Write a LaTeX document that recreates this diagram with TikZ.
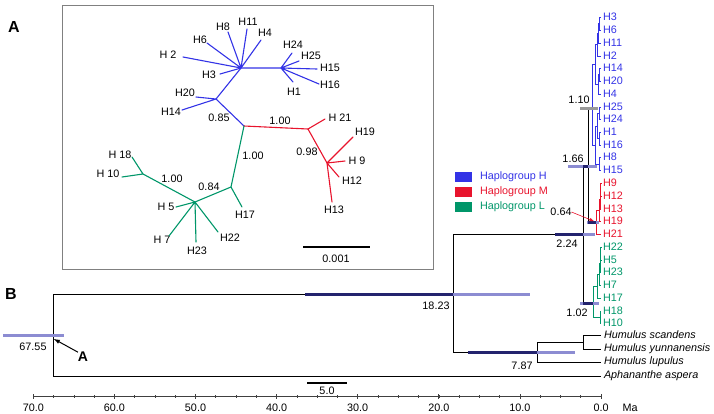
\documentclass[tikz,border=0pt]{standalone}
\usepackage{fontspec}
\setmainfont{Liberation Sans}
\usetikzlibrary{positioning}
\definecolor{hapH}{RGB}{51,51,230}
\definecolor{hapM}{RGB}{232,20,45}
\definecolor{hapL}{RGB}{0,150,105}
\definecolor{hpdlight}{RGB}{140,140,210}
\definecolor{hpddark}{RGB}{35,35,110}
\definecolor{framegray}{gray}{0.5}

\begin{document}
\begin{tikzpicture}[
	x=1pt, y=-1pt,
	every node/.style={inner sep=0pt, outer sep=0pt,
		font=\fontsize{10.8}{12}\selectfont},
	uline/.style={line width=1.1pt, line cap=round},
	branch/.style={line width=0.9pt},
	hpdbar/.style={line width=3pt, draw=hpdlight},
	hpdpart/.style={line width=3pt, draw=hpddark},
	panel/.style={font=\fontsize{16}{18}\selectfont\bfseries},
	tiplab/.style={anchor=west},
	species/.style={anchor=west, font=\fontsize{10.8}{12}\selectfont\itshape},
	keybox/.style={minimum width=17pt, minimum height=10pt},
]
\useasboundingbox (0,0) rectangle (714,413);
% Input 1: name, 2: end of the spoke, 3: where its label sits.
\def\utip(#1)#2#3#4{
	\coordinate (#1) at (#2);
	\node (#1lab) at (#3) {#4};
}
% Input 2: y of the tip (all tips at 0.0 Ma), 3: label colour.
\def\leaf(#1)#2#3#4{
	\coordinate (#1) at (601,#2);
	\node[tiplab, text=#3] (#1lab) at (603,#2) {#4};
}
\def\outleaf(#1)#2#3{
	\coordinate (#1) at (601,#2);
	\node[species] (#1lab) at (604,#2) {#3};
}
% \hpd{node}{reach left}{reach right}{part lying on the parent branch}.
\def\hpd#1#2#3#4{
	\draw[hpdbar] ([xshift=-#2pt]#1) -- ([xshift=#3pt]#1);
	\draw[hpdpart] ([xshift=-#4pt]#1) -- (#1);
}
	% ---- A: unrooted haplotype tree ----
	\node[panel] (labA) at (14,27) {A};
	\draw[framegray, line width=0.9pt] (62,5) rectangle (433,269);

	\coordinate (c0) at (244,126);
	\coordinate (b1) at (216,99);
	\coordinate (b2) at (241,68);
	\coordinate (b3) at (281,68);
	\coordinate (r1) at (308,129);
	\coordinate (r2) at (327,163);
	\coordinate (g1) at (231,187);
	\coordinate (g2) at (195,202);
	\coordinate (g3) at (143,174);

	\utip(u20){196,97}{185,93}{H20}
	\utip(u14){182,110}{171,112}{H14}
	\utip(u3){220,74}{209,75}{H3}
	\utip(u2){183,57}{168,55}{H 2}
	\utip(u6){207,43}{200,40}{H6}
	\utip(u8){228,32}{223,27}{H8}
	\utip(u11){247,29}{248,22}{H11}
	\utip(u4){261,40}{265,33}{H4}
	\utip(u24){292,53}{293,45}{H24}
	\utip(u25){299,61}{311,56}{H25}
	\utip(u15){317,69}{330,68}{H15}
	\utip(u16){319,84}{330,85}{H16}
	\utip(u1){293,82}{294,92}{H1}

	\utip(u21){325,119}{340,118}{H 21}
	\utip(u19){353,137}{365,132}{H19}
	\utip(u9){345,161}{357,161}{H 9}
	\utip(u12){339,177}{352,181}{H12}
	\utip(u13){332,202}{334,210}{H13}

	\utip(u17){242,207}{245,215}{H17}
	\utip(u18){132,157}{120,155}{H 18}
	\utip(u10){122,177}{108,174}{H 10}
	\utip(u5){176,207}{166,207}{H 5}
	\utip(u7){169,236}{162,240}{H 7}
	\utip(u23){196,242}{197,251}{H23}
	\utip(u22){218,232}{230,238}{H22}

	\draw[uline, hapH] (c0) -- (b1) -- (b2) -- (b3);
	\draw[uline, hapH] (b1) -- (u20) (b1) -- (u14);
	\draw[uline, hapH] (b2) -- (u3) (b2) -- (u2) (b2) -- (u6)
		(b2) -- (u8) (b2) -- (u11) (b2) -- (u4);
	\draw[uline, hapH] (b3) -- (u24) (b3) -- (u25) (b3) -- (u15)
		(b3) -- (u16) (b3) -- (u1);
	\draw[uline, hapM] (c0) -- (r1) -- (r2);
	\draw[uline, hapM] (r1) -- (u21) (r2) -- (u19) (r2) -- (u9)
		(r2) -- (u12) (r2) -- (u13);
	\draw[uline, hapL] (c0) -- (g1) -- (g2) -- (g3);
	\draw[uline, hapL] (g1) -- (u17) (g3) -- (u18) (g3) -- (u10)
		(g2) -- (u5) (g2) -- (u7) (g2) -- (u23) (g2) -- (u22);

	\node (s085) at (219,118) {0.85};
	\node (s100m) at (280,121) {1.00};
	\node (s098) at (307,152) {0.98};
	\node (s100l) at (253,156) {1.00};
	\node (s084) at (209,187) {0.84};
	\node (s100g) at (172,179) {1.00};

	\coordinate (ubar0) at (303,247);
	\coordinate (ubar1) at (370,247);
	\draw[line width=1.5pt] (ubar0) -- (ubar1);
	\node (ubarlab) at (336,259) {0.001};

	% legend
	\node[keybox, fill=hapH] (keyH) at (463,177) {};
	\node[keybox, fill=hapM] (keyM) at (463,192) {};
	\node[keybox, fill=hapL] (keyL) at (463,207) {};
	\node[right=8.5pt of keyH, text=hapH] (keyHlab) {Haplogroup H};
	\node[right=8.5pt of keyM, text=hapM] (keyMlab) {Haplogroup M};
	\node[right=8.5pt of keyL, text=hapL] (keyLlab) {Haplogroup L};

	% ---- B: dated tree ----
	\node[panel] (labB) at (11,294) {B};

	\leaf(h3){17}{hapH}{H3}
	\leaf(h6){30}{hapH}{H6}
	\leaf(h11){43}{hapH}{H11}
	\leaf(h2){56}{hapH}{H2}
	\leaf(h14){68}{hapH}{H14}
	\leaf(h20){81}{hapH}{H20}
	\leaf(h4){94}{hapH}{H4}
	\leaf(h25){107}{hapH}{H25}
	\leaf(h24){119}{hapH}{H24}
	\leaf(h1){132}{hapH}{H1}
	\leaf(h16){145}{hapH}{H16}
	\leaf(h8){157}{hapH}{H8}
	\leaf(h15){170}{hapH}{H15}
	\leaf(h9){183}{hapM}{H9}
	\leaf(h12){196}{hapM}{H12}
	\leaf(h13){209}{hapM}{H13}
	\leaf(h19){221}{hapM}{H19}
	\leaf(h21){234}{hapM}{H21}
	\leaf(h22){247}{hapL}{H22}
	\leaf(h5){260}{hapL}{H5}
	\leaf(h23){272}{hapL}{H23}
	\leaf(h7){285}{hapL}{H7}
	\leaf(h17){298}{hapL}{H17}
	\leaf(h18){311}{hapL}{H18}
	\leaf(h10){323}{hapL}{H10}
	\outleaf(sca){335}{Humulus scandens}
	\outleaf(yun){349}{Humulus yunnanensis}
	\outleaf(lup){362}{Humulus lupulus}
	\outleaf(asp){376}{Aphananthe aspera}

	\coordinate (na) at (599.5,23.5);
	\coordinate (nb) at (598.5,33);
	\coordinate (nc) at (597.5,44.5);
	\coordinate (nd) at (599.5,74.5);
	\coordinate (ne) at (598,84);
	\coordinate (nf) at (595,64);
	\coordinate (ng) at (599,113);
	\coordinate (nh) at (599.5,138.5);
	\coordinate (ni) at (597,126);
	\coordinate (nj) at (599,164);
	\coordinate (nk) at (595,145);
	\coordinate (n110) at (592,108);
	\coordinate (ra) at (600.5,189.5);
	\coordinate (rb) at (600,199);
	\coordinate (rc) at (599,210);
	\coordinate (n064) at (596,222);
	\coordinate (n166) at (588,166);
	\coordinate (ga) at (600.5,253.5);
	\coordinate (gb) at (600,263);
	\coordinate (gc) at (599.5,274);
	\coordinate (gd) at (597,286);
	\coordinate (ge) at (600,317);
	\coordinate (n102) at (593,303);
	\coordinate (n224) at (583,234);
	\coordinate (nsc) at (583,342);
	\coordinate (n787) at (537,352);
	\coordinate (n1823) at (453,294);
	\coordinate (root) at (53,335);

	\draw[branch, hapH] (na) |- (h3) (na) |- (h6) (nb) |- (na) (nb) |- (h11)
		(nc) |- (nb) (nc) |- (h2) (nd) |- (h14) (nd) |- (h20)
		(ne) |- (nd) (ne) |- (h4) (nf) |- (nc) (nf) |- (ne)
		(ng) |- (h25) (ng) |- (h24) (nh) |- (h1) (nh) |- (h16)
		(ni) |- (ng) (ni) |- (nh) (nj) |- (h8) (nj) |- (h15)
		(nk) |- (ni) (nk) |- (nj) (n110) |- (nf) (n110) |- (nk);
	\draw[branch, hapM] (ra) |- (h9) (ra) |- (h12) (rb) |- (ra) (rb) |- (h13)
		(rc) |- (rb) (rc) |- (h19) (n064) |- (rc) (n064) |- (h21);
	\draw[branch, hapL] (ga) |- (h22) (ga) |- (h5) (gb) |- (ga) (gb) |- (h23)
		(gc) |- (gb) (gc) |- (h7) (gd) |- (gc) (gd) |- (h17)
		(ge) |- (h18) (ge) |- (h10) (n102) |- (gd) (n102) |- (ge);
	\draw[branch] (n166) |- (n110) (n166) |- (n064)
		(n224) |- (n166) (n224) |- (n102)
		(n1823) |- (n224) (n1823) |- (n787)
		(n787) |- (nsc) (n787) |- (lup)
		(nsc) |- (sca) (nsc) |- (yun)
		(root) |- (n1823) (root) |- (asp);

	% 95% HPD bars
	\draw[hpdbar] ([xshift=-50pt]root) -- ([xshift=11pt]root);
	\hpd{n1823}{148}{77}{148}
	\hpd{n787}{69}{38}{69}
	\hpd{n224}{28}{12}{28}
	\hpd{n166}{20}{9}{5}
	\draw[hpdbar, draw=gray!80] ([xshift=-12pt]n110) -- ([xshift=6pt]n110);
	\hpd{n064}{9}{3}{8}
	\hpd{n102}{13}{6}{10}

	\node (l6755) at (33,347) {67.55};
	\node (l1823) at (436,306) {18.23};
	\node (l787) at (522,366) {7.87};
	\node (l224) at (567,244) {2.24};
	\node (l166) at (573,159) {1.66};
	\node (l110) at (579,100) {1.10};
	\node (l102) at (577,313) {1.02};
	\node (l064) at (561,212) {0.64};
	\draw[hapM, -latex, line width=0.6pt, shorten >=2pt] (l064.east) -- (n064);

	\node[font=\fontsize{14}{16}\selectfont\bfseries] (aarrow) at (83,357) {A};
	\coordinate (rootmark) at (54,339);
	\draw[-latex, line width=1pt] (aarrow.north west) -- (rootmark);

	% time axis
	\coordinate (ax70) at (33,396);
	\coordinate (ax0) at (601,396);
	\draw[line width=0.8pt, black!75] (ax70) -- (ax0);
	\foreach \t in {0,2.5,...,70}
		\draw[line width=0.6pt, black!75] ({601-8.11*\t},395) -- ++(0,2.5);
	\foreach \t in {0,10,...,70} {
		\draw[line width=0.8pt, black!75] ({601-8.11*\t},394) -- ++(0,5);
		\node (tick\t) at ({601-8.11*\t},408) {\t.0};
	}
	\node (ma) at (630,408) {Ma};

	\coordinate (sb0) at (307,383);
	\coordinate (sb1) at (347,383);
	\draw[line width=2pt] (sb0) -- (sb1);
	\node (sblab) at (327,391) {5.0};
\end{tikzpicture}
\end{document}
